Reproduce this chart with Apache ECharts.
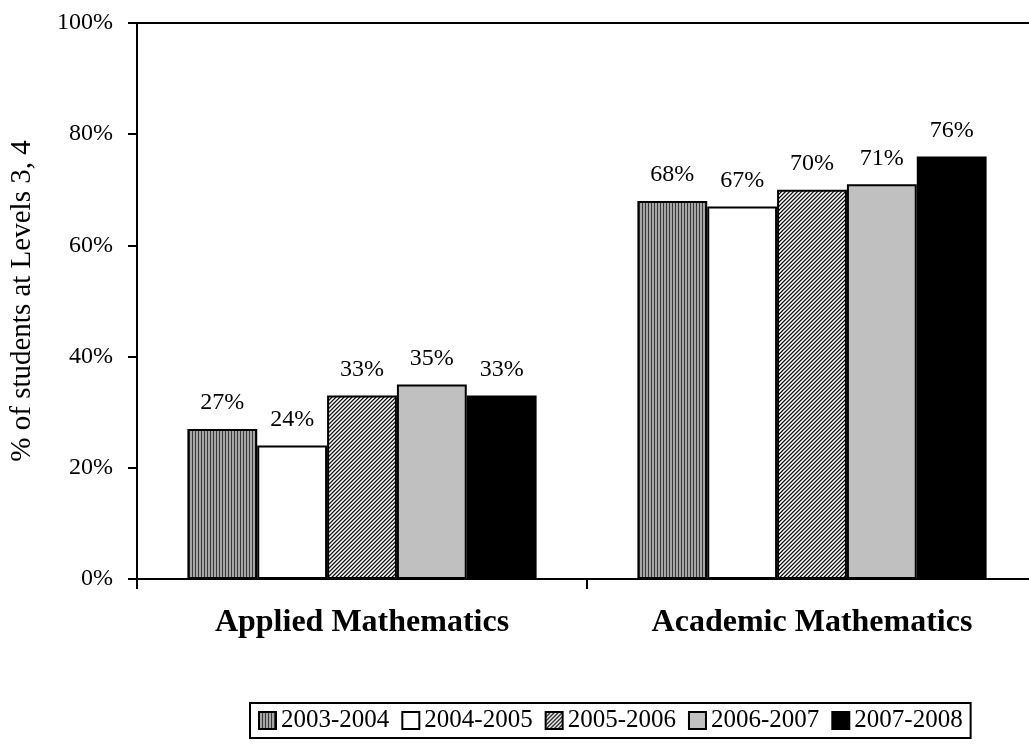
<!DOCTYPE html>
<html>
<head>
<meta charset="utf-8">
<script src="https://cdn.jsdelivr.net/npm/echarts@6/dist/echarts.min.js"></script>
<style>
  html, body { margin: 0; padding: 0; background: #fff; }
  #chart { width: 1029px; height: 744px; }
</style>
</head>
<body>
<div id="chart"></div>
<script>
var categories = ['Applied Mathematics', 'Academic Mathematics'];
var years = ['2003-2004', '2004-2005', '2005-2006', '2006-2007', '2007-2008'];
var v2003 = [27, 68];
var v2004 = [24, 67];
var v2005 = [33, 70];
var v2006 = [35, 71];
var v2007 = [33, 76];
var yTicks = [0, 20, 40, 60, 80, 100];

var FONT = '"Liberation Serif", "Times New Roman", serif';

// small canvas fills for the hatched bars
function makePattern(w, h, fn) {
    var c = document.createElement('canvas');
    c.width = w; c.height = h;
    var ctx = c.getContext('2d');
    for (var x = 0; x < w; x++) {
        for (var y = 0; y < h; y++) {
            ctx.fillStyle = fn(x, y);
            ctx.fillRect(x, y, 1, 1);
        }
    }
    return { image: c, repeat: 'repeat' };
}

var stripes = makePattern(3, 3, function (x, y) {
    return x === 0 ? '#3a3a3a' : '#a6a6a6';
});
var hatchCols = ['#111111', '#777777', '#ffffff', '#bbbbbb'];
var hatch = makePattern(4, 4, function (x, y) {
    return hatchCols[(x + y) % 4];
});

var fills = [stripes, '#ffffff', hatch, '#c0c0c0', '#000000'];
var values = [v2003, v2004, v2005, v2006, v2007];

var series = [];
for (var i = 0; i < years.length; i++) {
    series.push({
        name: years[i],
        type: 'bar',
        data: values[i],
        barGap: '0%',
        barCategoryGap: '22.4%',
        itemStyle: { color: fills[i], borderColor: '#000', borderWidth: 2 },
        label: {
            show: true,
            position: 'top',
            distance: 14,
            formatter: '{c}%',
            fontFamily: FONT,
            fontSize: 24,
            color: '#000'
        }
    });
}

var chart = echarts.init(document.getElementById('chart'));
chart.setOption({
    animation: false,
    backgroundColor: '#fff',
    grid: {
        left: 137, top: 23, width: 900, bottom: 165,
        outerBoundsMode: 'none',
        show: true, borderColor: '#000', borderWidth: 2,
        backgroundColor: 'transparent'
    },
    legend: {
        data: years,
        left: 250,
        top: 703,
        orient: 'horizontal',
        icon: 'rect',
        itemWidth: 17,
        itemHeight: 17,
        itemGap: 12,
        padding: [5, 8, 5, 8],
        borderColor: '#000',
        borderWidth: 2,
        textStyle: { fontFamily: FONT, fontSize: 25, color: '#000' }
    },
    xAxis: {
        type: 'category',
        data: categories,
        axisLine: { lineStyle: { color: '#000', width: 2 } },
        axisTick: { show: true, length: 10, lineStyle: { color: '#000', width: 2 } },
        axisLabel: {
            margin: 28,
            fontFamily: FONT,
            fontSize: 32,
            fontWeight: 'bold',
            color: '#000'
        }
    },
    yAxis: {
        type: 'value',
        min: yTicks[0],
        max: yTicks[yTicks.length - 1],
        interval: 20,
        name: '% of students at Levels 3, 4',
        nameLocation: 'middle',
        nameRotate: 90,
        nameGap: 100,
        nameTextStyle: { fontFamily: FONT, fontSize: 29, color: '#000' },
        axisLine: { show: true, lineStyle: { color: '#000', width: 2 } },
        axisTick: { show: true, length: 9, lineStyle: { color: '#000', width: 2 } },
        splitLine: { show: false },
        axisLabel: {
            margin: 24,
            formatter: '{value}%',
            fontFamily: FONT,
            fontSize: 24,
            color: '#000'
        }
    },
    series: series
});
</script>
</body>
</html>
